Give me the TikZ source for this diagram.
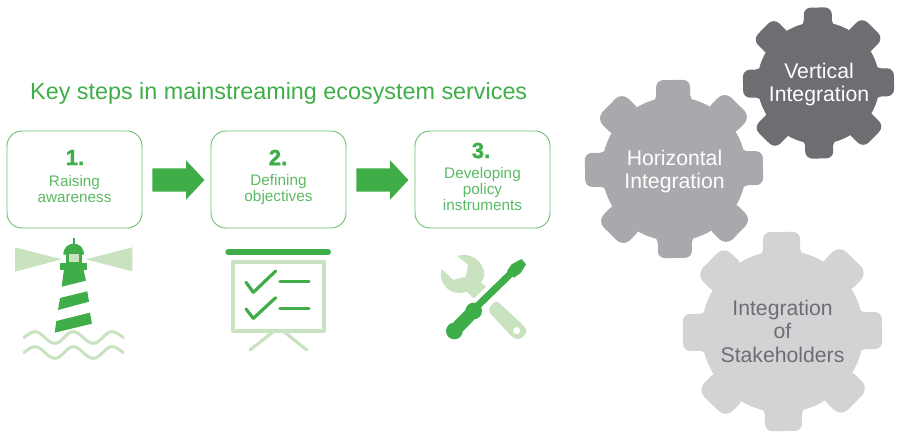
\documentclass[tikz,border=0pt]{standalone}
\usepackage{fontspec}
\setmainfont{Liberation Sans}
\newfontfamily\numfont{Liberation Sans}[BoldFeatures={FakeBold=1.6}]
\usetikzlibrary{shapes.arrows}
\definecolor{kgreen}{HTML}{3FAE49}
\definecolor{lgreen}{HTML}{C9E2C0}
\definecolor{boxgreen}{HTML}{6DBF72}
\definecolor{gdark}{HTML}{6D6E71}
\definecolor{gmid}{HTML}{A7A9AC}
\definecolor{glight}{HTML}{D1D3D4}
\newcommand{\gearshape}[7]{%
  \begin{scope}[shift={(#1,#2)},rotate=#7]
    \fill[#6] (0,0) circle (#3+1);
    \foreach \a in {0,90,180,270}{
      \fill[#6,rotate=\a,rounded corners=7pt] (-#5,#3-8) rectangle (#5,#4);
      \fill[#6,rotate=\a] (-#5-2,#3-3) -- (#5+2,#3-3) -- (#5,#3+2.5) -- (-#5,#3+2.5) -- cycle;
    }
    \foreach \a in {45,135,225,315}{
      \fill[#6,rotate=\a,rounded corners=#5*0.55] (-#5*1.08,#3-8) rectangle (#5*1.08,#4+2);
    }
  \end{scope}}
\tikzset{
  x=1pt,y=-1pt,
  stepbox/.style={draw=boxgreen,line width=0.9pt,rounded corners=15pt,minimum width=135pt,minimum height=97pt,inner sep=0pt},
  stepnum/.style={text=kgreen,font=\numfont\bfseries\fontsize{22}{22}\selectfont,inner sep=0pt},
  steptxt/.style={text=kgreen!85!white,align=center,font=\fontsize{15.3}{16}\selectfont,inner sep=0pt},
  blockarrow/.style={single arrow,fill=kgreen,draw=none,minimum height=52pt,single arrow head extend=8pt,single arrow tip angle=94,inner sep=0pt},
  geartxt/.style={align=center,font=\fontsize{21.2}{23.5}\selectfont,inner sep=0pt},
  lightln/.style={draw=lgreen,line cap=round,line join=round},
  darkln/.style={draw=kgreen,line cap=round,line join=round}
}
\begin{document}
\begin{tikzpicture}
\useasboundingbox (0,0) rectangle (901,434);
\fill[white] (0,0) rectangle (901,434);
\node[text=kgreen,font=\fontsize{23.35}{25}\selectfont,anchor=west,inner sep=0pt] (title) at (30,93) {Key steps in mainstreaming ecosystem services};
% boxes
\node[stepbox] (b1) at (74.5,179.5) {};
\node[stepbox] (b2) at (278.5,179.5) {};
\node[stepbox] (b3) at (482.5,179.5) {};
\node[stepnum] (n1) at (75,157.5) {1.};
\node[stepnum] (n2) at (278,157.5) {2.};
\node[stepnum] (n3) at (481,150.5) {3.};
\node[steptxt] (t1) at (74.5,189.2) {Raising\\awareness};
\node[steptxt] (t2) at (278.5,189.2) {Defining\\objectives};
\node[steptxt] (t3) at (482.5,189.2) {Developing\\policy\\instruments};
\node[blockarrow] (a1) at (173,180) {\rule{0pt}{23pt}};
\node[blockarrow] (a2) at (377,180) {\rule{0pt}{23pt}};
% lighthouse
\begin{scope}[shift={(0,230)},scale=1/3]
  \fill[lgreen] (45,52) -- (185,88) -- (45,125) -- cycle;
  \fill[lgreen] (397,52) -- (258,88) -- (397,124) -- cycle;
  \fill[kgreen] (218.5,25) rectangle (223.5,45);
  \fill[kgreen] (190,74) .. controls (190,52) and (205,41) .. (221,41) .. controls (237,41) and (252,52) .. (252,74) -- cycle;
  \fill[kgreen] (197,72) rectangle (245,100);
  \fill[lgreen] (207,72) rectangle (238,96);
  \fill[kgreen] (180,98) rectangle (260,120);
  \fill[kgreen] (192,118) -- (250,118) -- (258,152) -- (185,170) -- cycle;
  \fill[kgreen] (180,204) -- (262,184) -- (267,215) -- (174,240) -- cycle;
  \fill[kgreen] (169,273) -- (270,248) -- (276,281) -- (164,308) -- cycle;
  \foreach \d in {0,45}{
    \draw[lightln,line width=3pt] (72,323+\d) sin (105,305+\d) cos (135,323+\d) sin (165,340+\d) cos (192,323+\d) sin (220,305+\d) cos (250,323+\d) sin (280,340+\d) cos (308,323+\d) sin (335,305+\d) cos (370,323+\d);
  }
\end{scope}
% board
\begin{scope}[shift={(210,235)},scale=1/3]
  \draw[darkln,line width=6pt] (55,52) -- (354,52);
  \draw[lightln,line width=4pt] (68,80) rectangle (342,287);
  \draw[lightln,line width=3.2pt] (190,290) -- (120,345);
  \draw[lightln,line width=3.2pt] (222,290) -- (290,345);
  \draw[darkln,line width=3.2pt] (108,142) -- (130,172) -- (197,108);
  \draw[darkln,line width=3.2pt] (108,222) -- (130,250) -- (197,188);
  \draw[darkln,line width=3.2pt] (210,140) -- (297,140);
  \draw[darkln,line width=3.2pt] (210,220) -- (297,220);
\end{scope}
% tools
\begin{scope}[shift={(425,245)},scale=1/3]
  \fill[lgreen] (97,33) .. controls (130,22) and (160,40) .. (172,65) .. controls (182,85) and (178,100) .. (168,112) -- (183,125) -- (147,160) -- (125,140) .. controls (95,150) and (65,140) .. (52,110) .. controls (46,95) and (46,85) .. (50,72) -- (85,105) -- (122,95) -- (130,60) -- cycle;
  \fill[lgreen,even odd rule,rounded corners=4pt] (187,195) -- (213,165) -- (297,243) .. controls (310,262) and (290,285) .. (265,280) -- cycle (275,257) circle (11);
  \fill[kgreen] (290,42) -- (303,58) -- (287,84) -- (267,98) -- (246,78) -- (260,58) -- cycle;
  \draw[darkln,line width=7pt] (258,85) -- (150,190);
  \draw[darkln,line width=13pt] (146,198) -- (90,255);
  \fill[kgreen] (88,258) circle (25);
  \fill[kgreen] (146,198) circle (25);
\end{scope}
% gears
\gearshape{782.5}{331.5}{80}{99.5}{18.5}{glight}{0.6}
\gearshape{674}{169}{71}{89}{17}{gmid}{0.6}
\gearshape{818.5}{83}{60}{75.5}{14}{gdark}{0.6}
\node[geartxt,text=white] (vt) at (819,84.5) {Vertical\\Integration};
\node[geartxt,text=white] (ht) at (674.5,171.5) {Horizontal\\Integration};
\node[geartxt,text=gdark] (st) at (782.5,331) {Integration\\of\\Stakeholders};
\end{tikzpicture}
\end{document}
